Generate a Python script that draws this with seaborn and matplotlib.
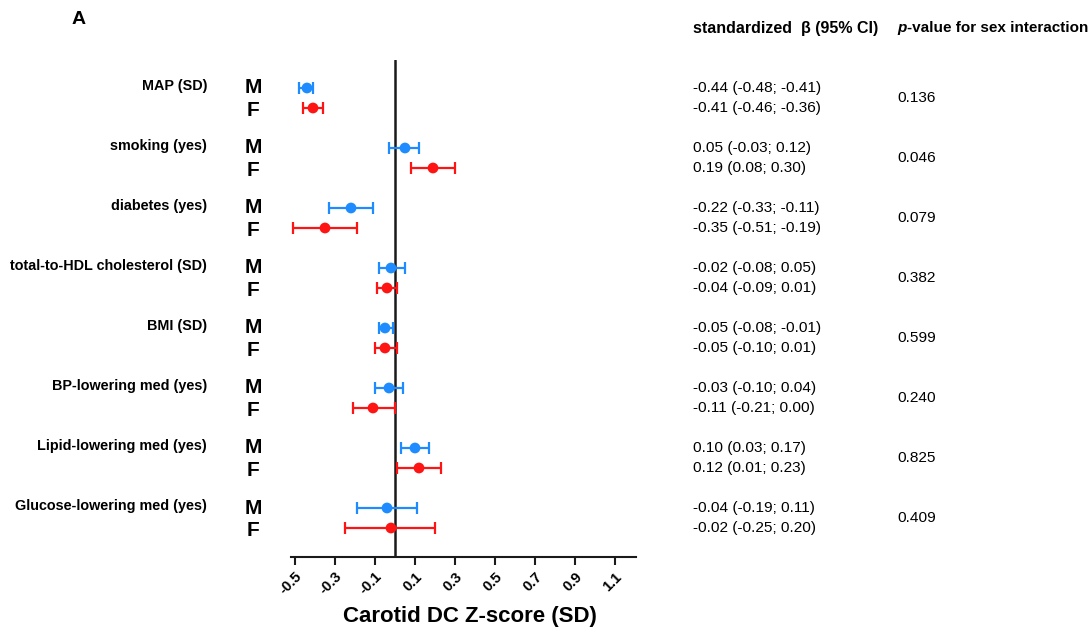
import numpy as np
import pandas as pd
import seaborn as sns
import matplotlib
matplotlib.use("Agg")
import matplotlib.pyplot as plt
from matplotlib.transforms import blended_transform_factory

categories = ["MAP (SD)", "smoking (yes)", "diabetes (yes)",
              "total-to-HDL cholesterol (SD)", "BMI (SD)",
              "BP-lowering med (yes)", "Lipid-lowering med (yes)",
              "Glucose-lowering med (yes)"]
m_beta = [-0.44, 0.05, -0.22, -0.02, -0.05, -0.03, 0.10, -0.04]
m_lo = [-0.48, -0.03, -0.33, -0.08, -0.08, -0.10, 0.03, -0.19]
m_hi = [-0.41, 0.12, -0.11, 0.05, -0.01, 0.04, 0.17, 0.11]
f_beta = [-0.41, 0.19, -0.35, -0.04, -0.05, -0.11, 0.12, -0.02]
f_lo = [-0.46, 0.08, -0.51, -0.09, -0.10, -0.21, 0.01, -0.25]
f_hi = [-0.36, 0.30, -0.19, 0.01, 0.01, 0.00, 0.23, 0.20]
p_int = ["0.136", "0.046", "0.079", "0.382", "0.599", "0.240", "0.825", "0.409"]
tick_vals = [-0.5, -0.3, -0.1, 0.1, 0.3, 0.5, 0.7, 0.9, 1.1]
tick_labels = ["-0.5", "-0.3", "-0.1", "0.1", "0.3", "0.5", "0.7", "0.9", "1.1"]

sns.set_style("white")
plt.rcParams["font.family"] = ["Liberation Sans", "DejaVu Sans"]
plt.rcParams["text.color"] = "black"
plt.rcParams["axes.labelcolor"] = "black"
plt.rcParams["xtick.color"] = "black"

BLUE = "#1E8CFF"
RED = "#FF1414"

rows = []
for i, c in enumerate(categories):
    rows.append(dict(cat=c, sex="M", beta=m_beta[i], lo=m_lo[i], hi=m_hi[i], y=3 * i))
    rows.append(dict(cat=c, sex="F", beta=f_beta[i], lo=f_lo[i], hi=f_hi[i], y=3 * i + 1))
df = pd.DataFrame(rows)

W, H = 1090, 628
fig = plt.figure(figsize=(W / 100, H / 100), dpi=100)
ax = fig.add_axes([291 / W, 1 - 557 / H, (636 - 291) / W, (557 - 60) / H])

for sex, col in [("M", BLUE), ("F", RED)]:
    d = df[df.sex == sex]
    ax.errorbar(d.beta, d.y, xerr=[d.beta - d.lo, d.hi - d.beta], fmt="none",
                ecolor=col, elinewidth=1.6, capsize=4.2, capthick=1.6, zorder=2)
sns.scatterplot(data=df, x="beta", y="y", hue="sex", palette={"M": BLUE, "F": RED},
                s=60, edgecolor="none", legend=False, ax=ax, zorder=3)

ax.axvline(0, color="#1a1a1a", lw=1.8, zorder=1)
ax.set_xlim(-0.52, 1.205)
ax.set_ylim(23.45, -1.4)
for s in ["left", "right", "top"]:
    ax.spines[s].set_visible(False)
ax.spines["bottom"].set_linewidth(1.5)
ax.spines["bottom"].set_color("#1a1a1a")
ax.set_yticks([])
ax.set_xticks(tick_vals)
ax.set_xticklabels(tick_labels, rotation=45, ha="right", rotation_mode="anchor",
                   fontsize=10.5, fontweight="bold")
ax.tick_params(axis="x", direction="out", length=6, width=1.5, color="#1a1a1a",
               bottom=True, pad=3)
ax.set_xlabel("Carotid DC Z-score (SD)", fontsize=16, fontweight="bold")
ax.xaxis.set_label_coords(0.519, -0.098)
ax.set_ylabel("")

tr = blended_transform_factory(fig.transFigure, ax.transData)
for i, c in enumerate(categories):
    ym, yf = 3 * i, 3 * i + 1
    ax.text(207 / W, ym - 0.1, c, transform=tr, ha="right", va="center",
            fontsize=10.4, fontweight="bold")
    ax.text(253 / W, ym, "M", transform=tr, ha="center", va="center",
            fontsize=15, fontweight="bold")
    ax.text(253 / W, yf + 0.15, "F", transform=tr, ha="center", va="center",
            fontsize=15, fontweight="bold")
    ax.text(693 / W, ym, f"{m_beta[i]:.2f} ({m_lo[i]:.2f}; {m_hi[i]:.2f})",
            transform=tr, ha="left", va="center", fontsize=11.1)
    ax.text(693 / W, yf, f"{f_beta[i]:.2f} ({f_lo[i]:.2f}; {f_hi[i]:.2f})",
            transform=tr, ha="left", va="center", fontsize=11.1)
    ax.text(897 / W, (ym + yf) / 2, p_int[i], transform=tr, ha="left",
            va="center", fontsize=11.1)

fig.text(72 / W, 1 - 20 / H, "A", ha="left", va="center", fontsize=14, fontweight="bold")
fig.text(693 / W, 1 - 28 / H, "standardized  \u03b2 (95% CI)", ha="left", va="center",
         fontsize=11.5, fontweight="bold")
tp = fig.text(897 / W, 1 - 28 / H, "p", ha="left", va="center", fontsize=11,
              fontweight="bold", fontstyle="italic")
fig.canvas.draw()
bb = tp.get_window_extent(renderer=fig.canvas.get_renderer())
fig.text(bb.x1 / W + 0.5 / W, 1 - 28 / H, "-value for sex interaction", ha="left",
         va="center", fontsize=11, fontweight="bold")

fig.savefig("out.png", dpi=100)
